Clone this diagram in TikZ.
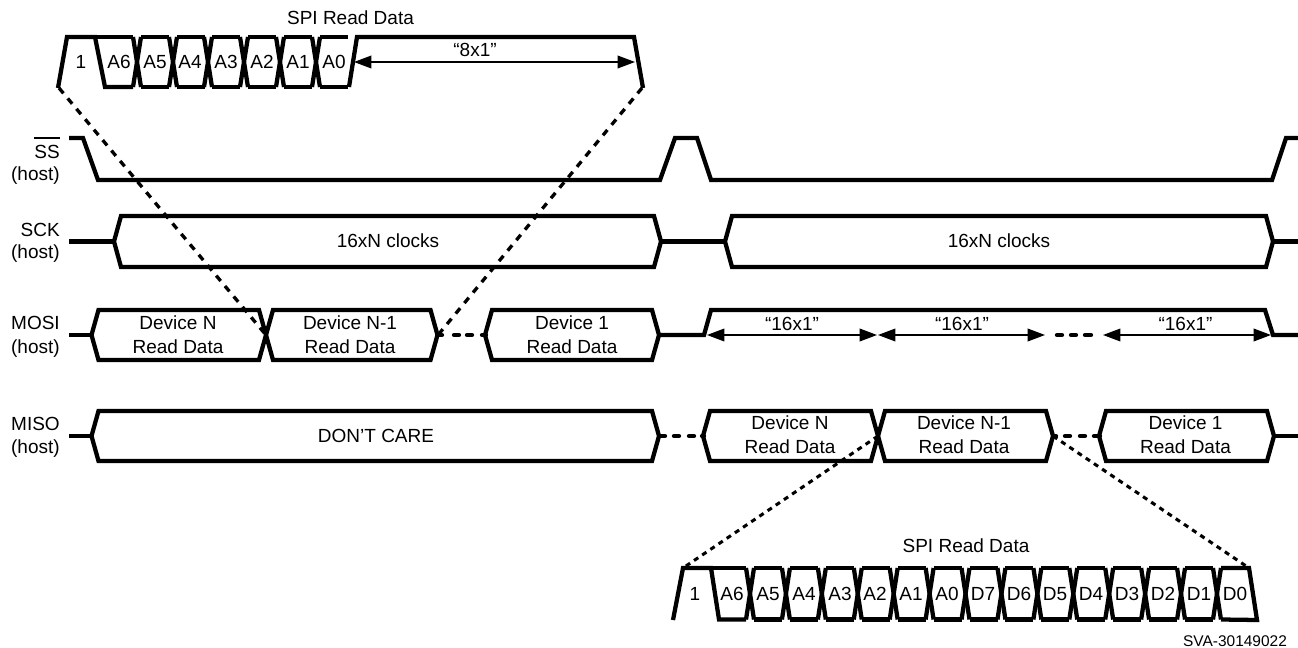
\documentclass[tikz,border=0pt]{standalone}
\usepackage{fontspec}
\setmainfont{Liberation Sans}
\usetikzlibrary{arrows.meta}
\tikzset{
  wave/.style={line width=3.2pt,line join=miter,miter limit=4,line cap=butt},
  zoomlink/.style={line width=2.5pt,dash pattern=on 5.2pt off 5pt},
  zoomlinkb/.style={line width=2.3pt,dash pattern=on 3.8pt off 3.6pt},
  dotsline/.style={line width=3.2pt,line cap=round},
  span/.style={line width=1.1pt,{Triangle[length=13pt,width=9.5pt]}-{Triangle[length=13pt,width=9.5pt]}},
  lbl/.style={inner sep=0pt,font=\fontsize{14.25pt}{16pt}\selectfont,text height=10.2pt,text depth=0pt},
  sig/.style={lbl,anchor=east},
  tag/.style={inner sep=0pt,font=\fontsize{11.6pt}{14pt}\selectfont,text height=8.3pt,text depth=0pt}
}
\newcommand{\bus}[4]{% left, right, top y, bottom y
  \draw[wave] (#1,{(#3+#4)/2}) -- ++(7,{(#3-#4)/2}) -- ({#2-7},#3) -- (#2,{(#3+#4)/2}) -- ({#2-7},#4) -- ({#1+7},#4) -- cycle;
}
\newcommand{\cell}[3]{% crossing x, top y, bottom y : X crossing of two neighbouring cells
  \draw[wave] ({#1-4},#2) -- ({#1+4},#3);
  \draw[wave] ({#1+4},#2) -- ({#1-4},#3);
}
\begin{document}
\begin{tikzpicture}[x=0.75pt,y=-0.75pt]
\useasboundingbox (0,0) rectangle (1298,648);
% named ends of the zoom links
\coordinate (tl) at (59,88);
\coordinate (tr) at (642,88);
\coordinate (ml) at (266,335);
\coordinate (mr) at (438,335);
\coordinate (bl) at (683,568);
\coordinate (br) at (1249,568);
\coordinate (sl) at (878,436);
\coordinate (sr) at (1053,436);
% zoom links
\draw[zoomlink] (tl) -- (ml);
\draw[zoomlink] (tr) -- (mr);
\draw[zoomlinkb] (sl) -- (bl);
\draw[zoomlinkb] (sr) -- (br);
% top burst
\draw[wave] (58,88) -- (67,37) -- (95,37) -- (105,87) -- (133,87);
\draw[wave] (95,37) -- (133,37);
\foreach \c in {137,173,208,244,280,316}{
  \cell{\c}{37}{87}
  \draw[wave] ({\c+4},37) -- ({\c+32},37);
  \draw[wave] ({\c+4},87) -- ({\c+32},87);
}
\draw[wave] (349,87) -- (357,37) -- (634,37) -- (643,88);
\foreach \c/\t [count=\i] in {81/1,119/A6,155/A5,190/A4,226/A3,262/A2,298/A1,334/A0}
  \node[lbl] (ta\i) at (\c,62) {\t};
\node[lbl] (ttitle) at (350.5,18) {SPI Read Data};
\coordinate (a1) at (354,62);
\coordinate (a2) at (635,62);
\draw[span] (a1) -- (a2);
\node[lbl] (t8) at (475,50) {“8x1”};
% SS
\draw[wave] (69,138) -- (83,138) -- (98,180) -- (660,180) -- (675,138) -- (697,138) -- (711,180) -- (1272,180) -- (1286,138) -- (1298,138);
\node[sig] (lss) at (60,152) {SS};
\draw[line width=0.9pt] (lss.north west |- 0,138) -- (lss.north east |- 0,138);
\node[sig] (lssh) at (60,174) {(host)};
% SCK
\draw[wave] (69,241.5) -- (114,241.5);
\bus{114}{661}{216}{267}
\draw[wave] (661,241.5) -- (725,241.5);
\bus{725}{1273}{216}{267}
\draw[wave] (1273,241.5) -- (1298,241.5);
\node[sig] (lsck) at (60,230) {SCK};
\node[sig] (lsckh) at (60,252) {(host)};
\node[lbl] (c1) at (388,241) {16xN clocks};
\node[lbl] (c2) at (999,241) {16xN clocks};
% MOSI
\draw[wave] (69,335) -- (91.5,335);
\bus{91.5}{266}{310}{360}
\bus{266}{437.5}{310}{360}
\draw[dotsline] (438,335) -- (442,335) (454,335) -- (459,335) (467,335) -- (472,335) (482,335) -- (486,335);
\bus{485}{659}{310}{360}
\draw[wave] (659,335) -- (704,335) -- (711,310) -- (1265,310) -- (1273,335) -- (1298,335);
\node[sig] (lmo) at (60,323) {MOSI};
\node[sig] (lmoh) at (60,347) {(host)};
\node[lbl] (m1a) at (178,323) {Device N};
\node[lbl] (m1b) at (178,347) {Read Data};
\node[lbl] (m2a) at (350,323) {Device N-1};
\node[lbl] (m2b) at (350,347) {Read Data};
\node[lbl] (m3a) at (572,323) {Device 1};
\node[lbl] (m3b) at (572,347) {Read Data};
\coordinate (s1) at (707,335);
\coordinate (s2) at (877,335);
\coordinate (s3) at (878,335);
\coordinate (s4) at (1045,335);
\coordinate (s5) at (1103,335);
\coordinate (s6) at (1271,335);
\draw[span] (s1) -- (s2);
\draw[span] (s3) -- (s4);
\draw[span] (s5) -- (s6);
\draw[dotsline] (1057,335) -- (1062,335) (1071,335) -- (1076,335) (1085,335) -- (1091,335);
\node[lbl] (u1) at (792,324) {“16x1”};
\node[lbl] (u2) at (962,324) {“16x1”};
\node[lbl] (u3) at (1185.5,324) {“16x1”};
% MISO
\draw[wave] (69,436) -- (91.5,436);
\bus{91.5}{659}{411}{461}
\draw[dotsline] (660,436) -- (665,436) (674,436) -- (679,436) (689,436) -- (694,436) (702,436) -- (704,436);
\bus{703}{878}{411}{461}
\bus{878}{1053}{411}{461}
\draw[dotsline] (1054,436) -- (1056,436) (1065,436) -- (1070,436) (1080,436) -- (1085,436) (1094,436) -- (1100,436);
\bus{1099}{1274}{411}{461}
\draw[wave] (1274,436) -- (1298,436);
\node[sig] (lmi) at (60,424) {MISO};
\node[sig] (lmih) at (60,447) {(host)};
\node[lbl] (dc) at (376,436) {DON’T CARE};
\node[lbl] (n1a) at (790,423) {Device N};
\node[lbl] (n1b) at (790,447) {Read Data};
\node[lbl] (n2a) at (964,423) {Device N-1};
\node[lbl] (n2b) at (964,447) {Read Data};
\node[lbl] (n3a) at (1185.5,423) {Device 1};
\node[lbl] (n3b) at (1185.5,447) {Read Data};
% bottom burst
\draw[wave] (673,620) -- (683,568) -- (711,568) -- (719,619.5) -- (746,619.5);
\draw[wave] (711,568) -- (746,568);
\foreach \i in {0,...,13}{
  \pgfmathsetmacro{\c}{750+35.92*\i}
  \cell{\c}{568}{619.5}
  \ifnum\i<13
    \draw[wave] ({\c+4},568) -- ({\c+32},568);
    \draw[wave] ({\c+4},619.5) -- ({\c+32},619.5);
  \fi
}
\draw[wave] (1221,568) -- (1249,568) -- (1257,620) -- (1221,619.5);
\foreach \c/\t [count=\i] in {695/1,732/A6,768/A5,804/A4,840/A3,875/A2,911/A1,947/A0,983/D7,1019/D6,1055/D5,1091/D4,1127/D3,1163/D2,1199/D1,1235/D0}
  \node[lbl] (ba\i) at (\c,594) {\t};
\node[lbl] (btitle) at (966,546) {SPI Read Data};
\node[tag] (sva) at (1235,640.5) {SVA-30149022};
\end{tikzpicture}
\end{document}
